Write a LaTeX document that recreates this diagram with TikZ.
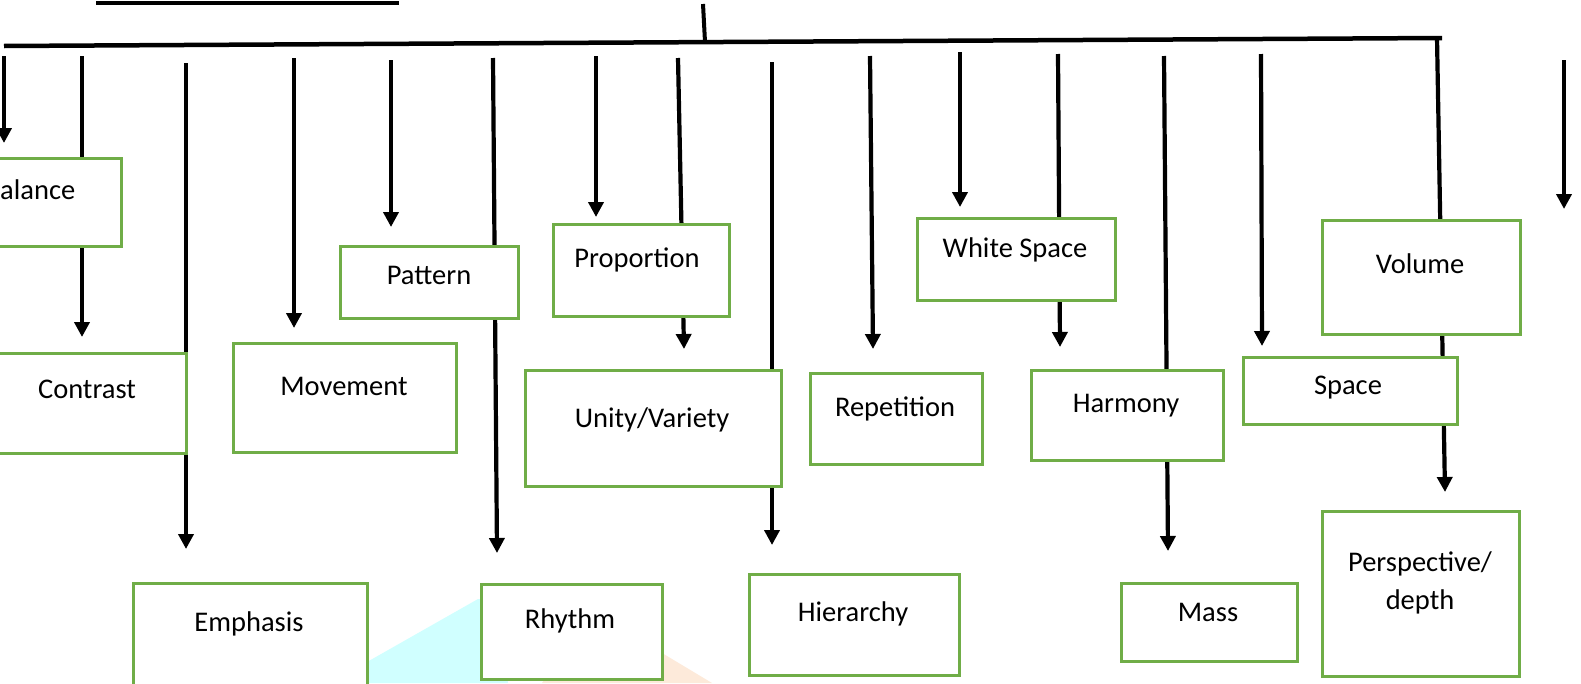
\documentclass[tikz,border=0pt]{standalone}
\usepackage{fontspec}
\setmainfont{Carlito}
\usetikzlibrary{arrows.meta}
\definecolor{boxgreen}{RGB}{112,173,71}
\definecolor{wmcyan}{RGB}{208,255,255}
\definecolor{wmpeach}{RGB}{253,234,218}
\begin{document}
\begin{tikzpicture}[x=1pt,y=-1pt,
	box/.style={draw=boxgreen,line width=2.6pt,fill=white,inner sep=0pt,anchor=north west},
	lbl/.style={inner sep=0pt,anchor=base,font=\fontsize{28.5}{38}\selectfont,align=center},
	arr/.style={black,line width=4.2pt,-{Triangle[length=15pt,width=15pt]}},
	bus/.style={black,line width=4.5pt}]
	\fill[white] (0,0) rectangle (1581,683);
	\useasboundingbox (0,0) rectangle (1581,683);
	% watermark pieces
	\fill[wmcyan] (367,662) -- (478,599) -- (495,599) -- (508,683) -- (367,683) -- cycle;
	\fill[wmpeach] (542,683) -- (560,660) -- (655,650) -- (662,653) -- (712,683) -- cycle;
	% top lines
	\coordinate (ulL) at (96,3); \coordinate (ulR) at (399,3);
	\draw[bus,line width=4pt](ulL)--(ulR);
	\coordinate (topA) at (703,4); \coordinate (topB) at (705,42);
	\draw[bus,line width=4pt](topA)--(topB);
	\coordinate (busL) at (4,46); \coordinate (busR) at (1442,38);
	\draw[bus](busL)--(busR);
	% arrows
	\coordinate (a1s) at (4,56); \coordinate (a1e) at (4,143); \draw[arr](a1s)--(a1e);
	\coordinate (a2s) at (82,56); \coordinate (a2e) at (82,337); \draw[arr](a2s)--(a2e);
	\coordinate (a3s) at (186,63); \coordinate (a3e) at (186,549); \draw[arr](a3s)--(a3e);
	\coordinate (a4s) at (294,58); \coordinate (a4e) at (294,328); \draw[arr](a4s)--(a4e);
	\coordinate (a5s) at (391,60); \coordinate (a5e) at (391,227); \draw[arr](a5s)--(a5e);
	\coordinate (a6s) at (493,58); \coordinate (a6e) at (497,553); \draw[arr](a6s)--(a6e);
	\coordinate (a7s) at (596,56); \coordinate (a7e) at (596,217); \draw[arr](a7s)--(a7e);
	\coordinate (a8s) at (678,58); \coordinate (a8e) at (684,349); \draw[arr](a8s)--(a8e);
	\coordinate (a9s) at (772,62); \coordinate (a9e) at (772,545); \draw[arr](a9s)--(a9e);
	\coordinate (a10s) at (870,56); \coordinate (a10e) at (873,349); \draw[arr](a10s)--(a10e);
	\coordinate (a11s) at (960,52); \coordinate (a11e) at (960,207); \draw[arr](a11s)--(a11e);
	\coordinate (a12s) at (1058,54); \coordinate (a12e) at (1060,347); \draw[arr](a12s)--(a12e);
	\coordinate (a13s) at (1164,56); \coordinate (a13e) at (1168,551); \draw[arr](a13s)--(a13e);
	\coordinate (a14s) at (1261,54); \coordinate (a14e) at (1262,346); \draw[arr](a14s)--(a14e);
	\coordinate (a15s) at (1437,38); \coordinate (a15e) at (1445,492); \draw[arr](a15s)--(a15e);
	\coordinate (a16s) at (1564,60); \coordinate (a16e) at (1564,209); \draw[arr](a16s)--(a16e);
	% boxes
	\node[box,minimum width=182pt,minimum height=88pt](balance) at (-62,157){};
	\node[box,minimum width=197pt,minimum height=100pt](contrast) at (-12,352){};
	\node[box,minimum width=234pt,minimum height=140pt](emphasis) at (132,582){};
	\node[box,minimum width=223pt,minimum height=109pt](movement) at (232,342){};
	\node[box,minimum width=178pt,minimum height=72pt](pattern) at (339,245){};
	\node[box,minimum width=181pt,minimum height=95pt](rhythm) at (480,583){};
	\node[box,minimum width=176pt,minimum height=92pt](proportion) at (552,223){};
	\node[box,minimum width=256pt,minimum height=116pt](unity) at (524,369){};
	\node[box,minimum width=210pt,minimum height=101pt](hierarchy) at (748,573){};
	\node[box,minimum width=172pt,minimum height=91pt](repetition) at (809,372){};
	\node[box,minimum width=198pt,minimum height=82pt](whitespace) at (916,217){};
	\node[box,minimum width=192pt,minimum height=90pt](harmony) at (1030,369){};
	\node[box,minimum width=176pt,minimum height=78pt](mass) at (1120,582){};
	\node[box,minimum width=214pt,minimum height=67pt](space) at (1242,356){};
	\node[box,minimum width=198pt,minimum height=114pt](volume) at (1321,219){};
	\node[box,minimum width=197pt,minimum height=165pt](perspective) at (1321,510){};
	% labels
	\node[lbl](balanceT) at (30,199){Balance};
	\node[lbl](contrastT) at (87,398){Contrast};
	\node[lbl](emphasisT) at (249,631){Emphasis};
	\node[lbl](movementT) at (344,395){Movement};
	\node[lbl](patternT) at (429,284){Pattern};
	\node[lbl](rhythmT) at (570,628){Rhythm};
	\node[lbl](proportionT) at (637,267){Proportion};
	\node[lbl](unityT) at (652,427){Unity/Variety};
	\node[lbl](hierarchyT) at (853,621){Hierarchy};
	\node[lbl](repetitionT) at (895,416){Repetition};
	\node[lbl](whitespaceT) at (1015,257){White Space};
	\node[lbl](harmonyT) at (1126,412){Harmony};
	\node[lbl](massT) at (1208,621){Mass};
	\node[lbl](spaceT) at (1348,394){Space};
	\node[lbl](volumeT) at (1420,273){Volume};
	\node[lbl](perspectiveT) at (1420,609){Perspective/\\depth};
\end{tikzpicture}
\end{document}
